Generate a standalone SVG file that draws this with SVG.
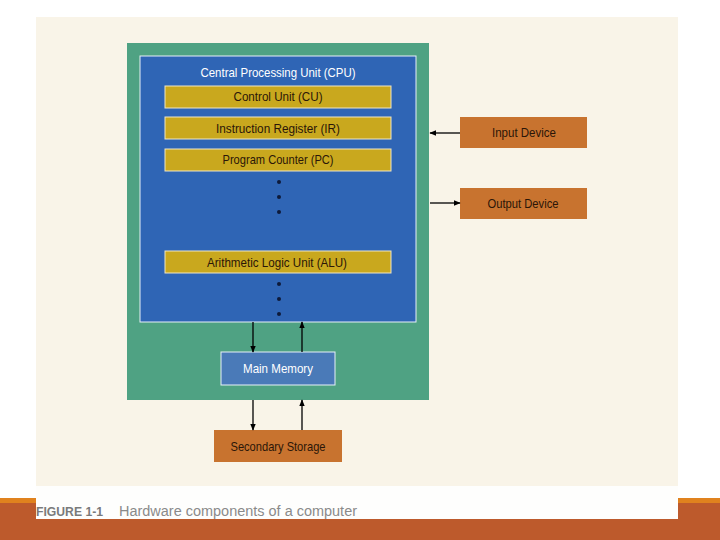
<svg xmlns="http://www.w3.org/2000/svg" width="720" height="540" viewBox="0 0 720 540">
<defs>
<style>
.lbl{font-family:"Liberation Sans Narrow","Liberation Sans",Arial,sans-serif;font-size:13px;text-anchor:middle}
.dark{fill:#2b1608}
.light{fill:#ffffff}
.bar{fill:#c9a81e;stroke:#efe6c4;stroke-width:1}
.dev{fill:#c8732f}
.dot{fill:#0d1a3a}
.conn{stroke:#000;stroke-width:1.3;fill:none}
</style>
<marker id="ah" viewBox="0 0 10 10" refX="9" refY="5" markerWidth="7" markerHeight="7" orient="auto" markerUnits="userSpaceOnUse">
<path d="M0,1 L10,5 L0,9 z" fill="#000"/>
</marker>
</defs>
<rect x="0" y="0" width="720" height="540" fill="#ffffff"/>
<rect x="0" y="498" width="720" height="6" fill="#e0821e"/>
<rect x="0" y="503" width="720" height="37" fill="#bd5a2c"/>
<rect x="36" y="17" width="642" height="469" fill="#f9f4e8"/>
<rect x="36" y="486" width="642" height="33" fill="#fefefd"/>

<g id="motherboard">
<rect x="127" y="43" width="302" height="357" fill="#4fa283"/>
</g>
<g id="cpu">
<rect x="140" y="56" width="276" height="266" fill="#2f65b5" stroke="#e8f0f8" stroke-width="1"/>
<text class="lbl light" x="278" y="77" textLength="155" lengthAdjust="spacingAndGlyphs">Central Processing Unit (CPU)</text>
<circle class="dot" cx="279" cy="182" r="2"/>
<circle class="dot" cx="279" cy="197" r="2"/>
<circle class="dot" cx="279" cy="212" r="2"/>
<circle class="dot" cx="279" cy="284" r="2"/>
<circle class="dot" cx="279" cy="299" r="2"/>
<circle class="dot" cx="279" cy="314" r="2"/>
</g>
<g id="cu">
<rect class="bar" x="165" y="86" width="226" height="22"/>
<text class="lbl dark" x="278" y="101" textLength="89" lengthAdjust="spacingAndGlyphs">Control Unit (CU)</text>
</g>
<g id="ir">
<rect class="bar" x="165" y="117" width="226" height="22"/>
<text class="lbl dark" x="278" y="133" textLength="124" lengthAdjust="spacingAndGlyphs">Instruction Register (IR)</text>
</g>
<g id="pc">
<rect class="bar" x="165" y="149" width="226" height="22"/>
<text class="lbl dark" x="278" y="164" textLength="111" lengthAdjust="spacingAndGlyphs">Program Counter (PC)</text>
</g>
<g id="alu">
<rect class="bar" x="165" y="251" width="226" height="22"/>
<text class="lbl dark" x="277" y="267" textLength="140" lengthAdjust="spacingAndGlyphs">Arithmetic Logic Unit (ALU)</text>
</g>
<g id="input">
<rect class="dev" x="460" y="117" width="127" height="31"/>
<text class="lbl dark" x="524" y="137" textLength="64" lengthAdjust="spacingAndGlyphs">Input Device</text>
</g>
<g id="output">
<rect class="dev" x="460" y="188" width="127" height="31"/>
<text class="lbl dark" x="523" y="208" textLength="71" lengthAdjust="spacingAndGlyphs">Output Device</text>
</g>
<g id="memory">
<rect x="221" y="352" width="114" height="33" fill="#4a7ab8" stroke="#e8f0f8" stroke-width="1"/>
<text class="lbl light" x="278" y="373" textLength="70" lengthAdjust="spacingAndGlyphs">Main Memory</text>
</g>
<g id="storage">
<rect class="dev" x="214" y="430" width="128" height="32"/>
<text class="lbl dark" x="278" y="451" textLength="95" lengthAdjust="spacingAndGlyphs">Secondary Storage</text>
</g>
<g id="connectors">
<line class="conn" x1="460" y1="133" x2="430" y2="133" marker-end="url(#ah)"/>
<line class="conn" x1="430" y1="203" x2="460" y2="203" marker-end="url(#ah)"/>
<line class="conn" x1="253" y1="322" x2="253" y2="352" marker-end="url(#ah)"/>
<line class="conn" x1="302" y1="352" x2="302" y2="322" marker-end="url(#ah)"/>
<line class="conn" x1="253" y1="400" x2="253" y2="430" marker-end="url(#ah)"/>
<line class="conn" x1="302" y1="430" x2="302" y2="400" marker-end="url(#ah)"/>
</g>
<g id="caption">
<text x="36" y="516" font-family="Liberation Sans Narrow,Liberation Sans,Arial,sans-serif" font-size="13" font-weight="bold" fill="#7a7a7a" textLength="67" lengthAdjust="spacingAndGlyphs">FIGURE 1-1</text>
<text x="119" y="516" font-family="Liberation Sans Narrow,Liberation Sans,Arial,sans-serif" font-size="14" fill="#8a8a8a" textLength="238" lengthAdjust="spacingAndGlyphs">Hardware components of a computer</text>
</g>
</svg>
